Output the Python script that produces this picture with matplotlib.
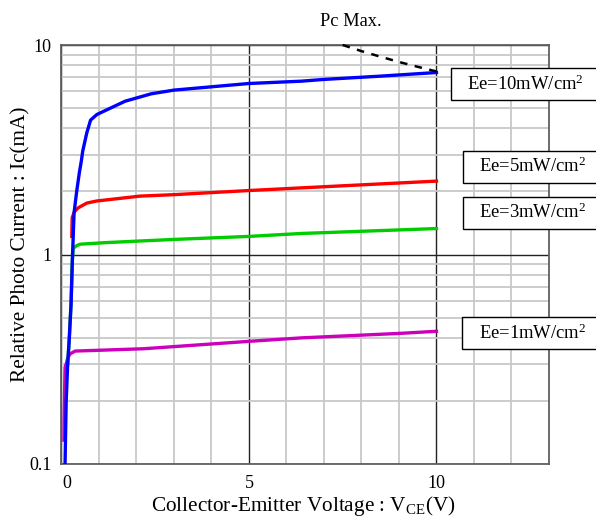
import matplotlib
matplotlib.use('Agg')
import matplotlib.pyplot as plt
from matplotlib.patches import Rectangle
from matplotlib.transforms import ScaledTranslation

plt.rcParams['font.family'] = 'Liberation Serif'
plt.rcParams['mathtext.fontset'] = 'custom'
plt.rcParams['mathtext.rm'] = 'Liberation Serif'
plt.rcParams['mathtext.it'] = 'Liberation Serif:italic'

# Ee = 10 mW/cm2
vce_10 = [0.10, 0.13, 0.17, 0.21, 0.26, 0.30, 0.34, 0.41, 0.48, 0.54, 0.57, 0.68, 0.78,
          0.95, 1.7, 2.4, 3.0, 5.0, 6.4, 7.0, 8.5, 10.0]
ic_10 = [0.10, 0.20, 0.30, 0.39, 0.58, 1.0, 1.58, 2.0, 2.45, 2.84, 3.11, 3.81, 4.38,
         4.66, 5.39, 5.85, 6.09, 6.55, 6.72, 6.85, 7.10, 7.39]
# Ee = 5 mW/cm2
vce_5 = [0.28, 0.29, 0.35, 0.45, 0.68, 0.94, 2.1, 3.0, 5.0, 6.4, 8.0, 10.0]
ic_5 = [1.22, 1.50, 1.60, 1.67, 1.76, 1.80, 1.90, 1.93, 2.02, 2.08, 2.15, 2.24]
# Ee = 3 mW/cm2
vce_3 = [0.17, 0.21, 0.26, 0.29, 0.32, 0.40, 0.50, 1.21, 2.1, 3.0, 5.0, 6.4, 10.0]
ic_3 = [0.30, 0.39, 0.58, 0.92, 1.07, 1.10, 1.12, 1.14, 1.16, 1.18, 1.22, 1.26, 1.33]
# Ee = 1 mW/cm2
vce_1 = [0.07, 0.075, 0.10, 0.13, 0.17, 0.23, 0.37, 1.2, 2.2, 5.0, 6.4, 9.0, 10.0]
ic_1 = [0.13, 0.165, 0.29, 0.30, 0.32, 0.335, 0.346, 0.35, 0.355, 0.385, 0.40, 0.42, 0.43]
# Pc max line
vce_pc = [7.5, 8.0, 8.5, 9.0, 9.5, 10.1]
ic_pc = [10.0, 9.35, 8.8, 8.3, 7.87, 7.4]

labels = ['Ee=10mW/cm$^2$', 'Ee=5mW/cm$^2$', 'Ee=3mW/cm$^2$', 'Ee=1mW/cm$^2$']

W, H = 596, 517
fig = plt.figure(figsize=(W / 100, H / 100), dpi=100)
ax = fig.add_axes([61.3 / W, (H - 464) / H, (549 - 61.3) / W, (464 - 45) / H])

ax.set_yscale('log')
ax.set_xlim(0, 13)
ax.set_ylim(0.1, 10)

ax.set_xticks([0, 5, 10])
ax.set_xticklabels(['0', '5', '10'])
ax.set_xticks([1, 2, 3, 4, 6, 7, 8, 9, 11, 12], minor=True)
ax.set_yticks([0.1, 1, 10])
ax.set_yticklabels(['0.1', '1', '10'])
ax.set_yticks([0.2, 0.3, 0.4, 0.5, 0.6, 0.7, 0.8, 0.9, 2, 3, 4, 5, 6, 7, 8, 9], minor=True)
ax.set_yticklabels([], minor=True)
ax.tick_params(which='both', length=0, labelsize=13)
ax.tick_params(axis='x', pad=8)
ax.tick_params(axis='y', pad=7)

ax.grid(which='minor', color='#c8c8c8', lw=1.3)
ax.grid(which='major', color='#222222', lw=1.0)
ax.set_axisbelow(True)
for s in ax.spines.values():
    s.set_color('#606060')
    s.set_linewidth(1.3)

ax.plot(vce_1, ic_1, color='#cc00bb', lw=2.4, zorder=3)
ax.plot(vce_3, ic_3, color='#00cc00', lw=2.4, zorder=3)
ax.plot(vce_5, ic_5, color='#ff0000', lw=2.4, zorder=3)
ax.plot(vce_10, ic_10, color='#0000ff', lw=2.4, zorder=4)
ax.plot(vce_pc, ic_pc, color='black', lw=1.8, linestyle=(0, (3, 3)), zorder=4, clip_on=False)

# shift "0" label a bit right like the reference
lab0 = ax.get_xticklabels()[0]
lab0.set_transform(lab0.get_transform() + ScaledTranslation(6 / 100, 0, fig.dpi_scale_trans))

fig.text(351 / W, 1 - 22 / H, 'Pc Max.', ha='center', va='center', fontsize=13.2)

# label boxes: (left, top, bottom, text left) in pixels
boxes = [(450.7, 68.3, 100.0, 466.7), (463.3, 150.7, 182.7, 479.0),
         (463.3, 196.7, 228.7, 479.0), (462.3, 317.3, 349.3, 479.0)]
for (x0, yt, yb, tx), lab in zip(boxes, labels):
    fig.add_artist(Rectangle((x0 / W, 1 - yb / H), (640 - x0) / W, (yb - yt) / H,
                             transform=fig.transFigure, facecolor='white',
                             edgecolor='black', lw=1.0, zorder=5))
    fig.text(tx / W, 1 - (yt + yb) / 2 / H, lab, ha='left', va='center',
             fontsize=13.4, zorder=6)

fig.text(21 / W, 1 - 244 / H, 'Relative Photo Current : Ic(mA)', rotation=90,
         ha='center', va='center', fontsize=15.3)
fig.text(303 / W, 1 - 506 / H, 'Collector-Emitter Voltage : V$_{\\mathrm{CE}}$(V)',
         ha='center', va='center', fontsize=15.3)

fig.savefig('out.png', dpi=100)
